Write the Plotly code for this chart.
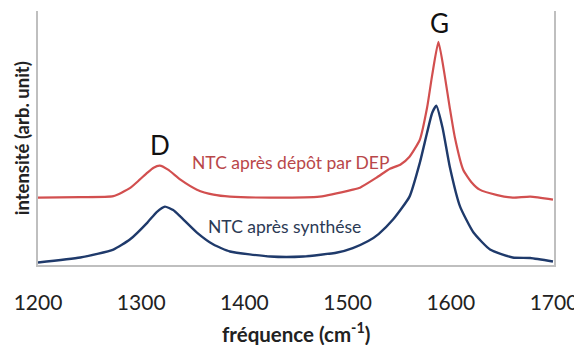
import plotly.graph_objects as go

# Raman spectra (arbitrary intensity units)
freq_red = [1200, 1241, 1273, 1289, 1298, 1306, 1312, 1318, 1326, 1338, 1354, 1370, 1386, 1425,
            1473, 1505, 1512, 1528, 1541, 1551, 1560, 1570, 1577, 1582, 1588, 1594, 1599,
            1604, 1612, 1620, 1628, 1645, 1660, 1677, 1699]
int_red = [67.5, 68, 69, 77, 85, 92.5, 97.5, 99.5, 95.5, 85.5, 75.5, 70.5, 68.5, 67.5,
           68.5, 75.5, 77.5, 87.5, 96.5, 100.5, 108.5, 125.5, 157.5, 190.5, 223.5, 190.5, 157.5,
           127.5, 95.5, 83, 75.5, 70, 67.5, 68.5, 65.5]

freq_blue = [1200, 1241, 1273, 1289, 1306, 1315, 1323, 1331, 1338, 1354, 1370, 1386, 1425,
             1457, 1490, 1505, 1520, 1530, 1544, 1560, 1570, 1577, 1582, 1586, 1592, 1599,
             1609, 1622, 1638, 1660, 1677, 1699]
int_blue = [2.5, 7.5, 15.5, 25.5, 42.5, 53, 58.5, 55, 48.5, 32.5, 20.5, 13.5, 8.5,
            8.5, 12.5, 17, 24, 31, 45.5, 68.5, 102.5, 132.5, 152.5, 159.5, 137.5, 98.5,
            58.5, 32.5, 15.5, 7.5, 7, 3.5]

x_ticks = [1200, 1300, 1400, 1500, 1600, 1700]

red = "#D24F4F"
blue = "#1F3A6B"
font = "Lato"

fig = go.Figure()
fig.add_trace(go.Scatter(x=freq_red, y=int_red, mode="lines",
                         line=dict(color=red, width=2.2, shape="spline", smoothing=0.5),
                         name="NTC après dépôt par DEP", showlegend=False))
fig.add_trace(go.Scatter(x=freq_blue, y=int_blue, mode="lines",
                         line=dict(color=blue, width=2.4, shape="spline", smoothing=0.5),
                         name="NTC après synthése", showlegend=False))

# page body has an 8px default margin, so the figure is sized to fit 582x345 window
fig.update_layout(
    width=574, height=337,
    margin=dict(l=30, r=28, t=3, b=80, autoexpand=False),
    paper_bgcolor="white", plot_bgcolor="white",
    font=dict(family=font, color="#222222"),
    xaxis=dict(range=[1200, 1700], tickvals=x_ticks, showgrid=False, zeroline=False,
               showline=True, linecolor="#BFBFBF", linewidth=1.5, ticks="",
               tickfont=dict(size=21, family=font, color="#222222"),
               ticklabelstandoff=18, automargin=False),
    yaxis=dict(range=[0, 254.5], showticklabels=False, showgrid=False, zeroline=False,
               showline=True, mirror=True, linecolor="#BFBFBF", linewidth=1.5, ticks="",
               automargin=False),
)

annos = [
    dict(x=1318, y=120.5, xref="x", yref="y", text="D", showarrow=False,
         font=dict(size=26, color="#111111", family=font), xanchor="center", yanchor="middle"),
    dict(x=1589.5, y=242.5, xref="x", yref="y", text="G", showarrow=False,
         font=dict(size=26, color="#111111", family=font), xanchor="center", yanchor="middle"),
    dict(x=1347, y=102.5, xref="x", yref="y", text="NTC après dépôt par DEP", showarrow=False,
         font=dict(size=17.5, color="#B9474A", family=font), xanchor="left", yanchor="middle"),
    dict(x=1363, y=38.5, xref="x", yref="y", text="NTC après synthése", showarrow=False,
         font=dict(size=17.5, color="#2B3A55", family=font), xanchor="left", yanchor="middle"),
    dict(x=0.5, y=-0.265, xref="paper", yref="paper", text="<b>fréquence (cm<sup>-1</sup>)</b>",
         showarrow=False, font=dict(size=20.5, color="#222222", family=font),
         xanchor="center", yanchor="middle"),
    dict(x=-0.031, y=0.499, xref="paper", yref="paper", text="<b>intensité (arb. unit)</b>",
         showarrow=False, textangle=-90, font=dict(size=18.5, color="#222222", family=font),
         xanchor="center", yanchor="middle"),
]
fig.update_layout(annotations=annos)

fig.write_html("out.html")
